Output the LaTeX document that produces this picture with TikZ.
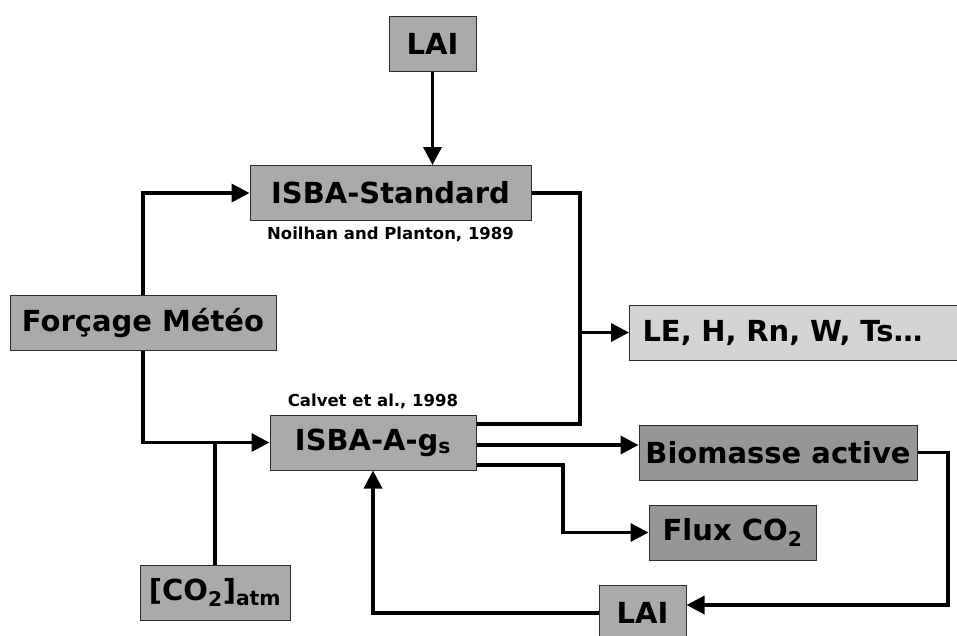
\documentclass[tikz,border=0pt]{standalone}
\usepackage{fontspec}
\setmainfont{DejaVu Sans}
\usetikzlibrary{arrows.meta,positioning,calc}
\definecolor{boxgray}{RGB}{170,170,170}
\definecolor{boxdark}{RGB}{150,150,150}
\definecolor{boxlight}{RGB}{212,212,212}
\definecolor{edgegray}{RGB}{45,45,45}
\tikzset{
  modbox/.style={draw=edgegray, line width=1pt, fill=boxgray, inner sep=0pt,
    minimum height=55pt, font=\fontsize{29}{31}\selectfont\bfseries},
  cite/.style={inner sep=0pt, font=\fontsize{16.5}{18}\selectfont\bfseries},
  flow/.style={line width=3.5pt, -{Triangle[length=18pt,width=18pt]}},
  wire/.style={line width=3.5pt}
}
\begin{document}
\begin{tikzpicture}[x=1pt,y=-1pt]
			%%%%% START %%%%%
			\useasboundingbox (0,0) rectangle (957,635);

			\node[modbox, minimum width=87pt] (laitop) at (432.5,43.5) {LAI};
			\node[modbox, minimum width=281pt] (std) at (390.5,193) {ISBA-Standard};
			\node[cite, below=6pt of std] (stdref) {Noilhan and Planton, 1989};
			\node[modbox, minimum width=266pt] (force) at (143,323) {Forçage Météo};
			\node[modbox, minimum width=206pt] (ags) at (373,442.5) {ISBA-A-g\textsubscript{s}};
			\node[cite, above=5pt of ags] (agsref) {Calvet et al., 1998};
			\node[modbox, fill=boxlight, anchor=west, text width=310pt, inner xsep=13pt, align=left] (les) at (629,332.5) {LE, H, Rn, W, Ts…};
			\node[modbox, fill=boxdark, minimum width=278pt] (bio) at (778,452.5) {Biomasse active};
			\node[modbox, fill=boxdark, minimum width=167pt] (flux) at (732.5,532.5) {Flux CO\textsubscript{2}};
			\node[modbox, minimum width=150pt] (co2) at (215,592.5) {[CO\textsubscript{2}]\textsubscript{atm}};
			\node[modbox, minimum width=87pt] (laibot) at (642.5,612.5) {LAI};

			% bends of the wires
			\coordinate (merge) at (580,424);
			\coordinate (bioin) at ([yshift=-2.5pt]ags.east);
			\coordinate (fturn) at (563,465);
			\coordinate (bturn) at (948,605);

			\draw[flow] (laitop.south) -- (laitop.south |- std.north);
			\draw[flow] (force.north) |- (std.west);
			\draw[flow] (force.south) |- (ags.west);
			\draw[wire] (co2.north) -- (co2.north |- ags.west);

			\draw[wire] (std.east) -| (merge) -- (merge -| ags.east);
			\draw[flow] (merge |- les.west) -- (les.west);

			\draw[flow] (bioin) -- (bioin -| bio.west);
			\draw[flow] (fturn -| ags.east) -- (fturn) |- (flux.west);
			\draw[flow] (bio.east) -| (bturn) -- (bturn -| laibot.east);
			\draw[flow] ([yshift=-0.5pt]laibot.west) -| (ags.south);
			%%%%% END %%%%%
\end{tikzpicture}
\end{document}
